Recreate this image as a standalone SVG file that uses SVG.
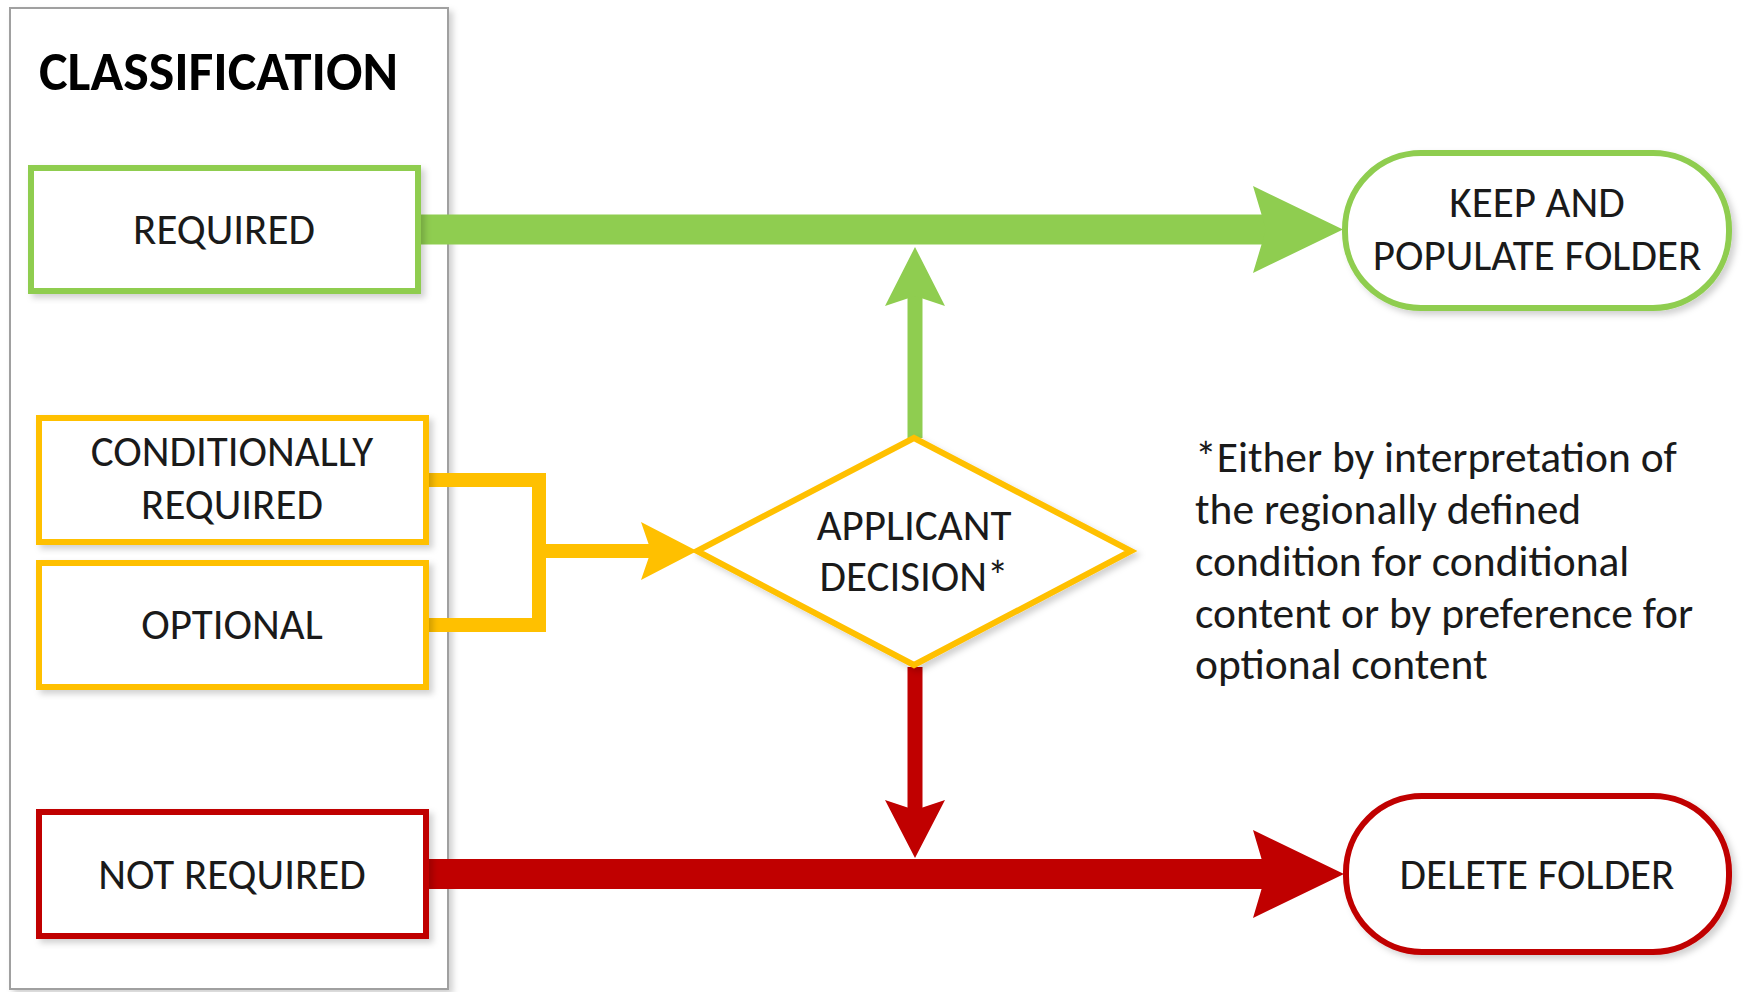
<svg xmlns="http://www.w3.org/2000/svg" width="1743" height="992" viewBox="0 0 1743 992">
  <defs>
    <filter id="sh" x="-5%" y="-5%" width="115%" height="115%">
      <feDropShadow dx="4" dy="4" stdDeviation="3" flood-color="#000" flood-opacity="0.18"/>
    </filter>
    <style>
      text { font-family: Carlito, Lato, "Liberation Sans", sans-serif; fill: #1a1a1a; }
      .lbl { font-size: 43px; text-anchor: middle; }
      .note { font-size: 43.5px; }
      .title { font-size: 54px; font-weight: bold; fill: #000; }
      .box { fill: #fff; stroke-width: 6; filter: url(#sh); }
      .g { stroke: #8FCD50; }
      .y { stroke: #FFC000; }
      .r { stroke: #C00000; }
      .gf { fill: #8FCD50; }
      .yf { fill: #FFC000; }
      .rf { fill: #C00000; }
    </style>
  </defs>
  <rect width="1743" height="992" fill="#fff"/>

  <g id="classification">
    <rect x="10" y="8" width="438" height="981" fill="#fff" stroke="#A0A0A0" stroke-width="2" filter="url(#sh)"/>
    <text class="title" x="39" y="90">CLASSIFICATION</text>
  </g>

  <g id="connectors">
    <!-- required -> keep -->
    <rect class="gf" x="418" y="214.5" width="848" height="30"/>
    <polygon class="gf" points="1253,186 1343,229.5 1253,273 1266,229.5"/>
    <!-- decision -> keep (up) -->
    <rect class="gf" x="907.5" y="296" width="15" height="142"/>
    <polygon class="gf" points="915,247 945,306 915,296 885,306"/>
    <!-- conditional/optional -> decision -->
    <path d="M426,480 H539 V625 H426" fill="none" class="y" stroke-width="14"/>
    <path d="M539,551 H652" fill="none" class="y" stroke-width="14"/>
    <polygon class="yf" points="697,551 641,522 651,551 641,580"/>
    <!-- decision -> delete (down) -->
    <rect class="rf" x="907.5" y="667" width="15" height="143"/>
    <polygon class="rf" points="915,858 945,800 915,810 885,800"/>
    <!-- not required -> delete -->
    <rect class="rf" x="425" y="859" width="841" height="30"/>
    <polygon class="rf" points="1253,830 1344,874 1253,918 1266,874"/>
  </g>

  <g id="required">
    <rect class="box g" x="31" y="168" width="387" height="123"/>
    <text class="lbl" x="224" y="244">REQUIRED</text>
  </g>

  <g id="conditionally-required">
    <rect class="box y" x="39" y="418" width="387" height="124"/>
    <text class="lbl" x="232" y="466">CONDITIONALLY</text>
    <text class="lbl" x="232" y="519">REQUIRED</text>
  </g>

  <g id="optional">
    <rect class="box y" x="39" y="563" width="387" height="124"/>
    <text class="lbl" x="232" y="639">OPTIONAL</text>
  </g>

  <g id="not-required">
    <rect class="box r" x="39" y="812" width="387" height="124"/>
    <text class="lbl" x="232" y="889">NOT REQUIRED</text>
  </g>

  <g id="applicant-decision">
    <polygon class="box y" points="914,438 1131,551 914,665 697,551"/>
    <text class="lbl" x="914" y="540">APPLICANT</text>
    <text class="lbl" x="914" y="591">DECISION*</text>
  </g>

  <g id="keep-folder">
    <rect class="box g" x="1345" y="153" width="384" height="155" rx="76" ry="76"/>
    <text class="lbl" x="1537" y="217">KEEP AND</text>
    <text class="lbl" x="1537" y="270">POPULATE FOLDER</text>
  </g>

  <g id="delete-folder">
    <rect class="box r" x="1346" y="796" width="383" height="156" rx="76" ry="76"/>
    <text class="lbl" x="1537" y="889">DELETE FOLDER</text>
  </g>

  <g id="note">
    <text class="note" x="1195" y="472">*Either by interpretation of</text>
    <text class="note" x="1195" y="524">the regionally defined</text>
    <text class="note" x="1195" y="576">condition for conditional</text>
    <text class="note" x="1195" y="628">content or by preference for</text>
    <text class="note" x="1195" y="679">optional content</text>
  </g>
</svg>
